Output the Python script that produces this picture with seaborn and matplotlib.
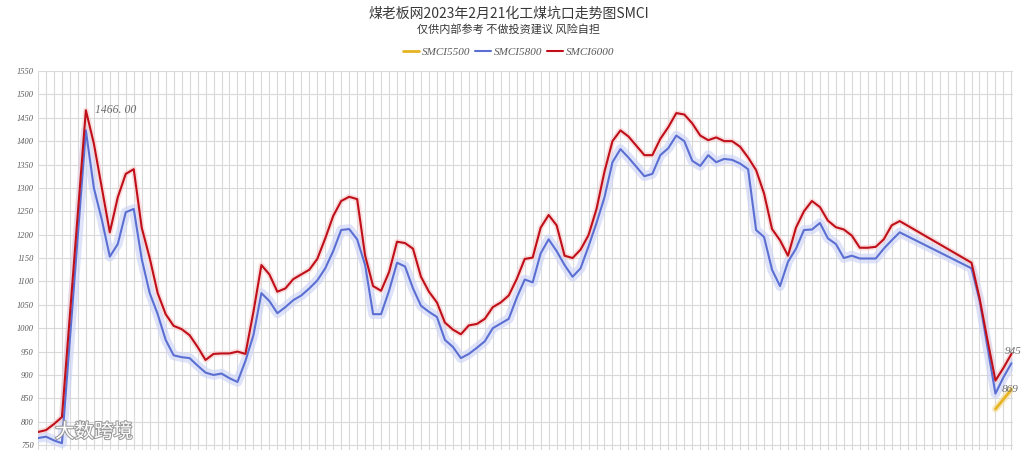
import matplotlib
matplotlib.use("Agg")
import matplotlib.pyplot as plt
import matplotlib.patheffects as pe
from matplotlib.ticker import MultipleLocator
import numpy as np
import pandas as pd
import seaborn as sns

# data (day index, gaps where the source has no quotes)
days = list(range(0, 4)) + list(range(6, 109)) + list(range(117, 123))

smci6000 = [778, 782, 795, 810,
            1466, 1395, 1300, 1205, 1280, 1330, 1340, 1215, 1150, 1075,
            1030, 1005, 998, 985, 960, 932, 945, 946, 946, 950,
            945, 1035, 1135, 1115, 1078, 1085, 1105, 1115, 1125, 1148,
            1192, 1240, 1272, 1281, 1276, 1155, 1090, 1080, 1120, 1185,
            1182, 1170, 1110, 1078, 1055, 1012, 997, 987, 1006, 1009,
            1020, 1045, 1055, 1070, 1105, 1148, 1151, 1215, 1242, 1220,
            1155, 1150, 1168, 1199, 1255, 1335, 1400, 1423, 1410, 1390,
            1370, 1370, 1405, 1430, 1460, 1457, 1438, 1412, 1402, 1408,
            1400, 1400, 1388, 1365, 1338, 1288, 1212, 1188, 1155, 1215,
            1250, 1272, 1259, 1230, 1216, 1211, 1198, 1172, 1172, 1174,
            1190, 1220, 1229,
            1140, 1065, 975, 888, 915, 945]

smci5800 = [765, 768, 760, 754,
            1423, 1300, 1232, 1153, 1180, 1248, 1255, 1148, 1075, 1030,
            975, 942, 938, 936, 920, 905, 900, 903, 893, 885,
            930, 985, 1075, 1058, 1032, 1045, 1060, 1070, 1085, 1102,
            1128, 1165, 1210, 1212, 1190, 1135, 1030, 1030, 1080, 1140,
            1132, 1085, 1048, 1035, 1024, 975, 960, 936, 945, 958,
            972, 1000, 1010, 1020, 1065, 1104, 1098, 1160, 1190, 1165,
            1135, 1110, 1128, 1175, 1225, 1280, 1355, 1383, 1365, 1345,
            1325, 1330, 1370, 1385, 1412, 1400, 1358, 1347, 1370, 1355,
            1362, 1360, 1352, 1340, 1210, 1195, 1125, 1090, 1142, 1170,
            1210, 1211, 1225, 1192, 1180, 1150, 1155, 1149, 1149, 1149,
            1170, 1188, 1205,
            1128, 1060, 960, 860, 895, 925]

days_5500 = [120, 121, 122]
smci5500 = [827, 848, 869]

df = pd.DataFrame({"day": days, "SMCI5800": smci5800, "SMCI6000": smci6000})
df55 = pd.DataFrame({"day": days_5500, "SMCI5500": smci5500})

c_yel = "#e6b422"
c_blu = "#5b6fd3"
c_red = "#c00f18"

sns.set_theme(style="white")
plt.rcParams["font.family"] = ["Noto Sans CJK SC", "DejaVu Sans"]

fig = plt.figure(figsize=(10.24, 4.5), dpi=100)
ax = fig.add_axes([38 / 1024, 0.0, (1013 - 38) / 1024, (450 - 71) / 450])

# soft glow under the lines
sns.lineplot(data=df, x="day", y="SMCI5800", ax=ax, color="#c9d1f7", lw=7, alpha=0.6, legend=False)
sns.lineplot(data=df, x="day", y="SMCI6000", ax=ax, color="#f6c9cb", lw=4, alpha=0.6, legend=False)
sns.lineplot(data=df55, x="day", y="SMCI5500", ax=ax, color="#f3dc9a", lw=5, alpha=0.6, legend=False)

sns.lineplot(data=df55, x="day", y="SMCI5500", ax=ax, color=c_yel, lw=2.0, label="SMCI5500")
sns.lineplot(data=df, x="day", y="SMCI5800", ax=ax, color=c_blu, lw=1.5, label="SMCI5800")
sns.lineplot(data=df, x="day", y="SMCI6000", ax=ax, color=c_red, lw=1.5, label="SMCI6000")

ax.set_xlim(0, 122.2)
ax.set_ylim(739.5, 1550)
ax.xaxis.set_major_locator(MultipleLocator(1))
ax.yaxis.set_major_locator(MultipleLocator(50))
ax.grid(True, color="#d9d9d9", lw=0.8)
ax.set_axisbelow(True)
ax.set_xticklabels([])
ax.tick_params(axis="x", length=0)
ax.tick_params(axis="y", length=0, pad=3)
for lab in ax.get_yticklabels():
    lab.set_fontfamily("Liberation Serif")
    lab.set_fontstyle("italic")
    lab.set_fontsize(6)
    lab.set_color("#595959")
ax.set_xlabel("")
ax.set_ylabel("")
for s in ax.spines.values():
    s.set_visible(False)

# value labels
lab_font = dict(family="Liberation Serif", style="italic", color="#6b6b6b")
ax.text(7.2, 1466, "1466. 00", fontsize=8.5, va="center", ha="left", **lab_font)
ax.text(121.1, 950, "945", fontsize=8, va="center", ha="left", clip_on=False, **lab_font)
ax.text(120.8, 869, "869", fontsize=8, va="center", ha="left", clip_on=False, **lab_font)

handles, labels = ax.get_legend_handles_labels()
ax.legend_.remove()
fig.legend(handles, labels, loc="center", bbox_to_anchor=(0.497, 1 - 52 / 450),
           ncol=3, frameon=False, handlelength=1.4, columnspacing=0.4, handletextpad=0.3,
           prop={"family": "Liberation Serif", "style": "italic", "size": 8})
for t in fig.legends[0].get_texts():
    t.set_color("#595959")

fig.text(0.497, 1 - 14 / 450, "煤老板网2023年2月21化工煤坑口走势图SMCI", ha="center", va="center",
         fontsize=10, color="#383838")
fig.text(0.497, 1 - 29 / 450, "仅供内部参考 不做投资建议 风险自担", ha="center", va="center",
         fontsize=8, color="#383838")

# site watermark bottom left
fig.text(55 / 1024, 18 / 450, "大数跨境", ha="left", va="center", fontsize=14, color="white",
         path_effects=[pe.withStroke(linewidth=1.5, foreground="#9a9a9a")])

fig.savefig("out.png", dpi=100, facecolor="white")
